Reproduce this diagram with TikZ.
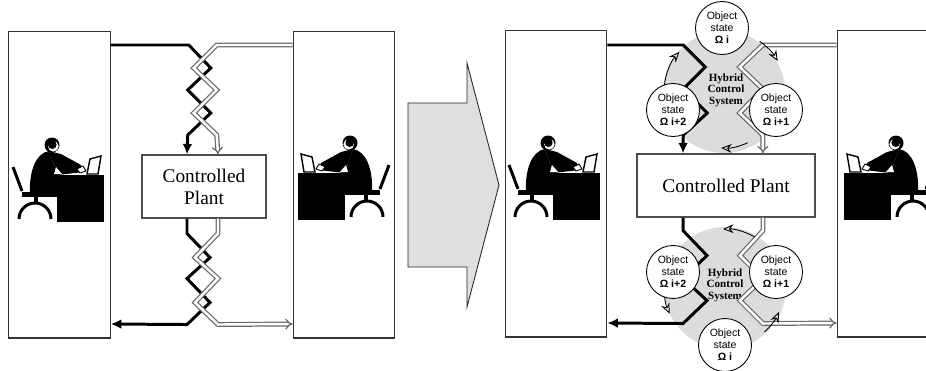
\documentclass[tikz,border=0pt]{standalone}
\usepackage{fontspec}
\setmainfont{Liberation Serif}
\newfontfamily\statefont{Liberation Sans}
\usetikzlibrary{arrows.meta,calc}
\definecolor{hcsgray}{RGB}{220,220,220}
\definecolor{arrowgray}{RGB}{223,223,223}
\definecolor{fbgray}{RGB}{105,105,105}

\tikzset{
  opbox/.style={draw=black!80,line width=0.6pt,fill=white,inner sep=0pt,
    minimum width=2.03cm,minimum height=6.14cm},
  plant/.style={draw=black!70,line width=0.6pt,fill=white,inner sep=0pt,align=center,
    font=\fontsize{11}{12.5}\selectfont},
  hcs/.style={circle,fill=hcsgray,inner sep=0pt,minimum size=2.44cm},
  hcslabel/.style={align=center,font=\bfseries\fontsize{6.3}{6.6}\selectfont},
  objstate/.style={circle,draw=black,fill=white,line width=0.5pt,inner sep=0pt,
    minimum size=1.06cm,align=center,font=\statefont\fontsize{6}{6.8}\selectfont},
  cmdline/.style={line width=1.7pt,-{Latex[length=6pt,width=5.5pt]}},
  fbline/.style={draw=fbgray,double=white,double distance=1.4pt,line width=0.7pt,-{Implies}},
  ringarrow/.style={line width=0.5pt,-{Stealth[open,length=6pt,width=5pt]}},
  worker/.pic={
    % desk, seat and chair
    \fill (5,-30) rectangle (52,-77);
    \fill (-30,-47) rectangle (6,-52);
    \fill (-18,-52) rectangle (-14,-58);
    \draw[line width=1.7pt] (-33,-74) arc[start angle=180,end angle=0,radius=16];
    \draw[line width=1.7pt] (-39,-22) -- (-30,-46);
    % body and arm
    \fill (-3,-6) .. controls (-16,-8) and (-23,-26) .. (-22,-48) -- (6,-48) -- (6,-30) -- (2,-20) -- cycle;
    \fill (-3,-6) -- (9,-9) -- (29,-20) -- (31,-27) -- (6,-30) -- (2,-20) -- cycle;
    \fill[white] (2,-29) -- (10,-29) -- (4,-22) -- cycle;
    % head
    \fill (0,0) circle (7.5);
    \fill[white] (1.3,-1.3) circle (5.3);
    \fill (0.3,0.3) circle (4.3);
    % hand and screen
    \filldraw[fill=white,line width=0.5pt] (25,-24) -- (31,-21) -- (34,-26) -- (28,-28) -- cycle;
    \filldraw[fill=white,line width=0.8pt] (35,-29) -- (38,-14) -- (49,-11) -- (46,-29) -- cycle;
  }
}

\begin{document}
\begin{tikzpicture}[x=0.02cm,y=0.02cm]
\useasboundingbox (0,0) rectangle (926,370);
\clip (0,0) rectangle (926,370);
% operators
\node[opbox] (opA) at (59.5,185.5) {};
\node[opbox] (opB) at (344,185.5) {};
\node[opbox] (opC) at (556,186.5) {};
\node[opbox] (opD) at (888,186.5) {};
\pic at (52,225) {worker};
\pic[xscale=-1] at (350,227) {worker};
\pic at (548,227) {worker};
\pic[xscale=-1] at (896,227) {worker};
% plants
\node[plant,minimum width=2.48cm,minimum height=1.26cm] (plantA) at (204,183.5) {Controlled\\Plant};
\node[plant,minimum width=3.56cm,minimum height=1.26cm] (plantB) at (726,184.5) {Controlled Plant};
% hybrid control rings
\node[hcs] (hcsA) at (724,278) {};
\node[hcs] (hcsB) at (725,82) {};
\node[hcslabel] (hcsAl) at (726,280) {Hybrid\\Control\\System};
\node[hcslabel] (hcsBl) at (725,85) {Hybrid\\Control\\System};
% commands (black) and feedback (grey), direct
\draw[cmdline] (opA.east |- 0,325) -- ++(78,0) -- ++(22,-23) -- ++(-23,-22) -- ++(23,-23) -- ++(-23,-22) -- ($(plantA.north)+(-17,0)$);
\draw[cmdline] ($(plantA.south)+(-17,0)$) -- ++(0,-15) -- ++(23,-24) -- ++(-23,-21) -- ++(23,-24) -- ++(-23,-22) -- (opA.east |- 0,46);
\draw[fbline] (opB.west |- 0,325) -- ++(-76,0) -- ++(-23,-23) -- ++(23,-22) -- ++(-23,-23) -- ++(23,-22) -- ($(plantA.north)+(14,0)$);
\draw[fbline] ($(plantA.south)+(14,0)$) -- ++(0,-15) -- ++(-23,-24) -- ++(23,-21) -- ++(-23,-24) -- ++(23,-22) -- (opB.west |- 0,46);
% commands and feedback through the hybrid system
\draw[cmdline] (opC.east |- 0,325) -- ++(76,0) -- ++(22,-22) -- ++(-22,-22) -- ++(24,-24) -- ++(-24,-22) -- ($(plantB.north)+(-43,0)$);
\draw[cmdline] ($(plantB.south)+(-43,0)$) -- ++(0,-13) -- ++(24,-25) -- ++(-24,-23) -- ++(24,-22) -- ++(-24,-23) -- (opC.east |- 0,47);
\draw[fbline] (opD.west |- 0,325) -- ++(-74,0) -- ++(-23,-22) -- ++(23,-22) -- ++(-23,-24) -- ++(23,-22) -- ($(plantB.north)+(37,0)$);
\draw[fbline] ($(plantB.south)+(37,0)$) -- ++(0,-13) -- ++(-23,-25) -- ++(23,-23) -- ++(-23,-22) -- ++(23,-23) -- (opD.west |- 0,47);
% state cycle
\draw[ringarrow] ([shift={(175:60)}]hcsA.center) arc[start angle=175,end angle=138,radius=60];
\draw[ringarrow] ([shift={(55:62)}]hcsA.center) arc[start angle=55,end angle=30,radius=62];
\draw[ringarrow] ([shift={(-65:56)}]hcsA.center) arc[start angle=-65,end angle=-93,radius=56];
\draw[ringarrow] ([shift={(60:59)}]hcsB.center) arc[start angle=60,end angle=92,radius=59];
\draw[ringarrow] ([shift={(180:61)}]hcsB.center) arc[start angle=180,end angle=205,radius=61];
\draw[ringarrow] ([shift={(312:59)}]hcsB.center) arc[start angle=312,end angle=336,radius=59];
\node[objstate] (osA0) at (722,342) {Object\\state\\\textbf{Ω i}};
\node[objstate] (osA1) at (776,260) {Object\\state\\\textbf{Ω i+1}};
\node[objstate] (osA2) at (673,260) {Object\\state\\\textbf{Ω i+2}};
\node[objstate] (osB0) at (725,25) {Object\\state\\\textbf{Ω i}};
\node[objstate] (osB1) at (776,98) {Object\\state\\\textbf{Ω i+1}};
\node[objstate] (osB2) at (673,98) {Object\\state\\\textbf{Ω i+2}};
% transition arrow
\filldraw[fill=arrowgray,draw=black!85,line width=0.5pt] (408,267) -- (467,267) -- (467,307) -- (499,185) -- (467,63) -- (467,103) -- (408,103) -- cycle;
\end{tikzpicture}
\end{document}
